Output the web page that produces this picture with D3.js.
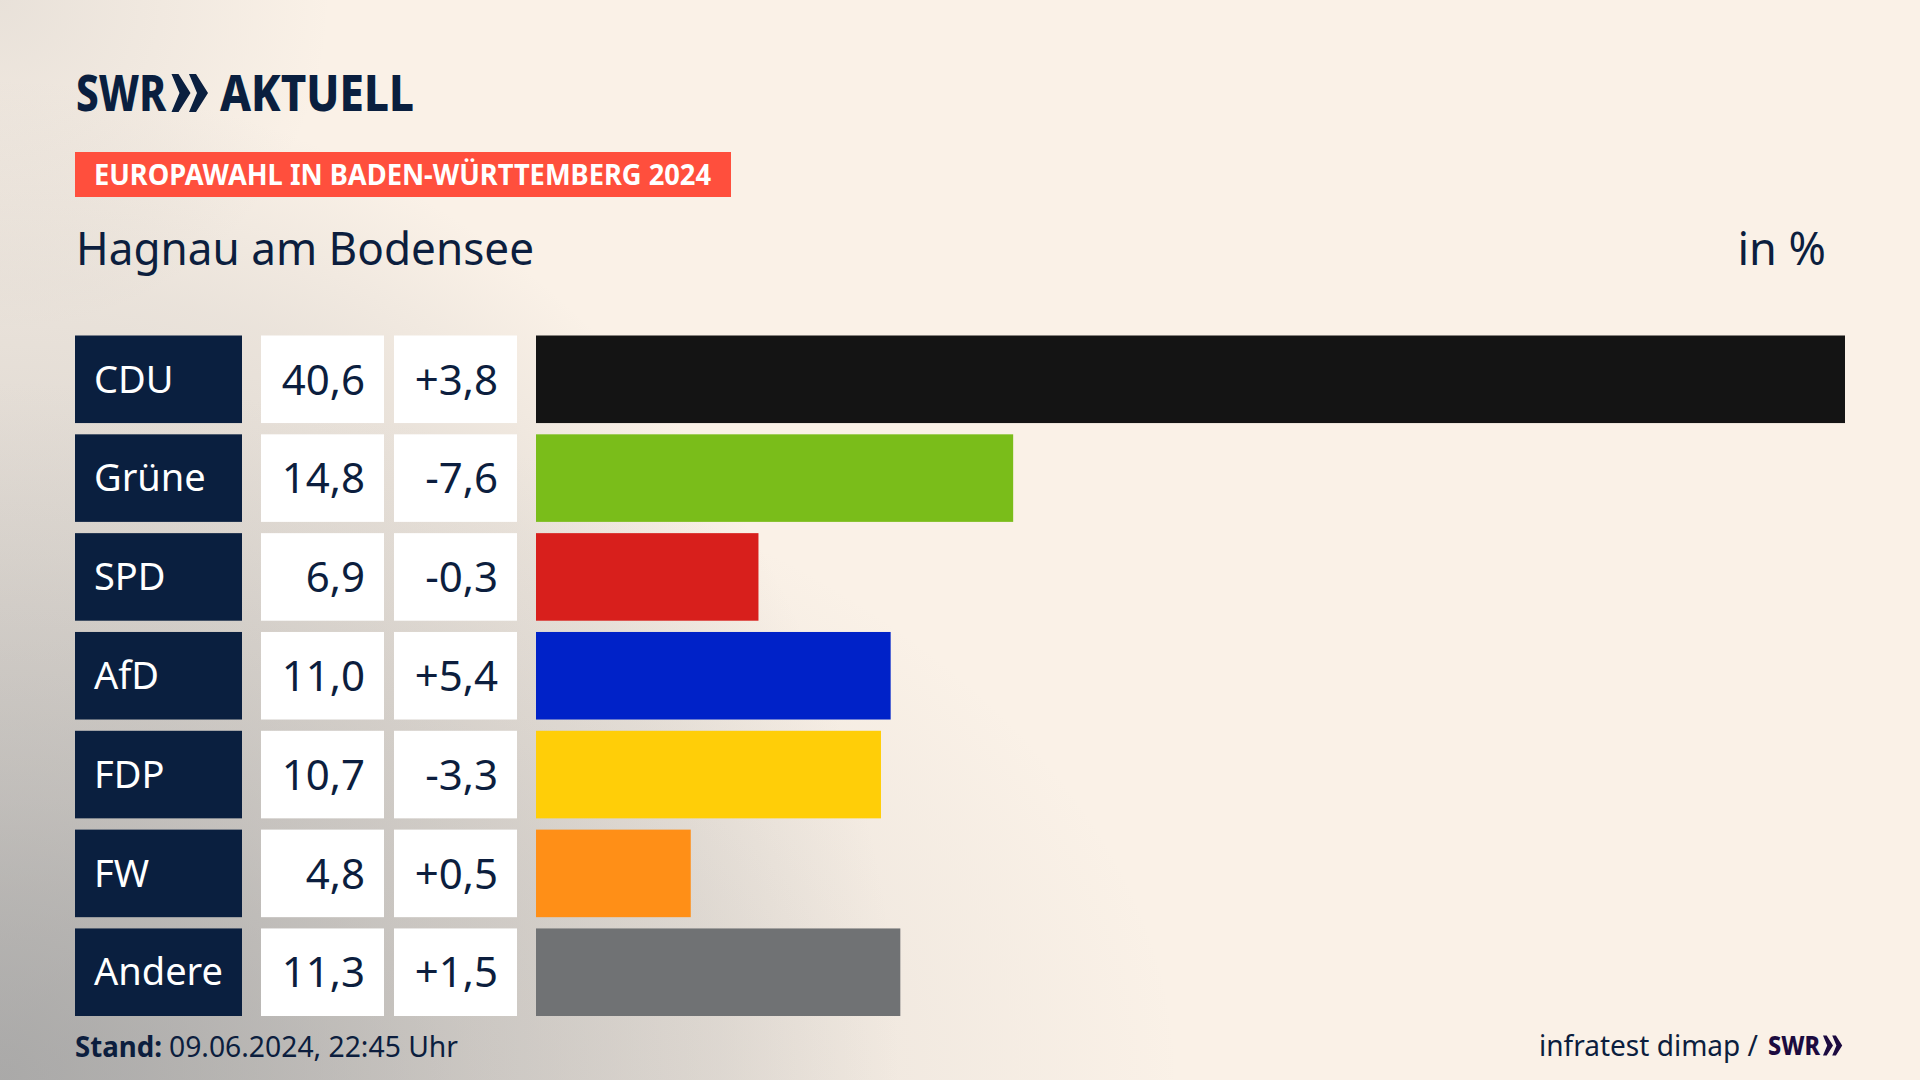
<!DOCTYPE html>
<html>
<head>
<meta charset="utf-8">
<script src="https://cdn.jsdelivr.net/npm/d3@7"></script>
<style>
  html, body { margin: 0; padding: 0; background: #faf1e7; }
  svg { display: block; }
  text { font-family: "Noto Sans", sans-serif; }
</style>
</head>
<body>
<svg id="chart" width="1920" height="1080"></svg>
<script>
const parties = ["CDU", "Grüne", "SPD", "AfD", "FDP", "FW", "Andere"];
const shares = [40.6, 14.8, 6.9, 11.0, 10.7, 4.8, 11.3];
const changes = [3.8, -7.6, -0.3, 5.4, -3.3, 0.5, 1.5];
const partyColors = ["#141414", "#7abd1a", "#d81f1c", "#0022c8", "#ffce08", "#ff8f17", "#707274"];

const navy = "#0a1f3f";
const textColor = "#0c1e3e";

let svg = d3.select("#chart");
let defs = svg.append("defs");

// Background: warm paper with grey haze coming out of the bottom left
function radial(id, rx, ry, cy, stops) {
  let g = defs.append("radialGradient").attr("id", id)
    .attr("gradientUnits", "userSpaceOnUse")
    .attr("cx", 0).attr("cy", 0).attr("r", 1)
    .attr("gradientTransform", "translate(0," + cy + ") scale(" + rx + "," + ry + ")");
  stops.forEach(s => g.append("stop").attr("offset", s[0]).attr("stop-color", s[1]).attr("stop-opacity", s[2]));
}
radial("hazeLeft", 900, 1000, 1080, [[0, "#a2a2a2", 0.7], [0.45, "#a2a2a2", 0.38], [0.8, "#a2a2a2", 0.18], [1, "#a2a2a2", 0]]);
radial("hazeBottom", 1180, 700, 1080, [[0, "#a2a2a2", 0.7], [0.4, "#a2a2a2", 0.3], [0.75, "#a2a2a2", 0.1], [1, "#a2a2a2", 0]]);
radial("hazeTop", 330, 330, 0, [[0, "#a2a2a2", 0.2], [1, "#a2a2a2", 0]]);

svg.append("rect").attr("width", 1920).attr("height", 1080).attr("fill", "#faf1e7");
["hazeTop", "hazeLeft", "hazeBottom"].forEach(id => {
  svg.append("rect").attr("width", 1920).attr("height", 1080).attr("fill", "url(#" + id + ")");
});

// Squeeze a text to a measured width
function fit(sel, w) {
  sel.attr("textLength", w).attr("lengthAdjust", "spacingAndGlyphs");
}

function chevrons(x, y, h, color) {
  let u = h / 38;
  [0, 17.5].forEach(dx => {
    svg.append("path")
      .attr("transform", "translate(" + (x + dx * u) + "," + y + ") scale(" + u + ")")
      .attr("d", "M0 0 L7 0 L19 19 L7 38 L0 38 L8 19 Z")
      .attr("fill", color);
  });
}

// Logo
svg.append("text").attr("x", 76).attr("y", 111)
  .attr("font-size", 50).attr("font-weight", 800).attr("fill", navy)
  .text("SWR").call(fit, 90);
chevrons(171.5, 74, 38, navy);
svg.append("text").attr("x", 220).attr("y", 111)
  .attr("font-size", 50).attr("font-weight", 800).attr("fill", navy)
  .text("AKTUELL").call(fit, 194);

// Banner
svg.append("rect").attr("x", 75).attr("y", 152).attr("width", 656).attr("height", 45).attr("fill", "#ff4f3d");
svg.append("text").attr("x", 94).attr("y", 185)
  .attr("font-size", 28).attr("font-weight", 700).attr("fill", "#fff")
  .text("EUROPAWAHL IN BADEN-WÜRTTEMBERG 2024").call(fit, 617);

// Title and unit
svg.append("text").attr("x", 76).attr("y", 265)
  .attr("font-size", 45).attr("fill", textColor)
  .text("Hagnau am Bodensee").call(fit, 458);
svg.append("text").attr("x", 1826).attr("y", 265).attr("text-anchor", "end")
  .attr("font-size", 45).attr("fill", textColor)
  .text("in %");

// Scales
let y = d3.scaleBand()
  .domain(parties)
  .range([335.5, 1016])
  .paddingInner(0.114);

let x = d3.scaleLinear()
  .domain([0, d3.max(shares)])
  .range([536, 1845]);

let deLocale = d3.formatLocale({ decimal: ",", thousands: ".", grouping: [3], currency: ["", " €"], minus: "-" });
let fmtShare = deLocale.format(".1f");
let fmtChange = deLocale.format("+.1f");

let rows = svg.selectAll("g.row")
  .data(parties)
  .enter()
  .append("g")
  .attr("class", "row")
  .attr("transform", d => "translate(0," + y(d) + ")");

rows.append("rect").attr("x", 75).attr("width", 167).attr("height", y.bandwidth()).attr("fill", navy);
rows.append("rect").attr("x", 261).attr("width", 123).attr("height", y.bandwidth()).attr("fill", "#fff");
rows.append("rect").attr("x", 394).attr("width", 123).attr("height", y.bandwidth()).attr("fill", "#fff");

rows.append("rect")
  .attr("x", x(0))
  .attr("width", (d, i) => x(shares[i]) - x(0))
  .attr("height", y.bandwidth())
  .attr("fill", (d, i) => partyColors[i]);

rows.append("text")
  .attr("x", 94).attr("y", 57)
  .attr("font-size", 38).attr("fill", "#fff")
  .text(d => d);

rows.append("text")
  .attr("x", 365).attr("y", 59).attr("text-anchor", "end")
  .attr("font-size", 42).attr("fill", textColor)
  .text((d, i) => fmtShare(shares[i]));

rows.append("text")
  .attr("x", 498).attr("y", 59).attr("text-anchor", "end")
  .attr("font-size", 42).attr("fill", textColor)
  .text((d, i) => fmtChange(changes[i]));

// Footer
svg.append("text").attr("x", 75).attr("y", 1057)
  .attr("font-size", 29).attr("font-weight", 700).attr("fill", textColor)
  .text("Stand:").call(fit, 87);
svg.append("text").attr("x", 169).attr("y", 1057)
  .attr("font-size", 29).attr("fill", textColor)
  .text("09.06.2024, 22:45 Uhr").call(fit, 289);

svg.append("text").attr("x", 1539).attr("y", 1056)
  .attr("font-size", 29).attr("fill", textColor)
  .text("infratest dimap /").call(fit, 219);
svg.append("text").attr("x", 1768).attr("y", 1055)
  .attr("font-size", 27).attr("font-weight", 800).attr("fill", "#1c0b40")
  .text("SWR").call(fit, 52);
chevrons(1823, 1035.5, 20, "#1c0b40");
</script>
</body>
</html>
